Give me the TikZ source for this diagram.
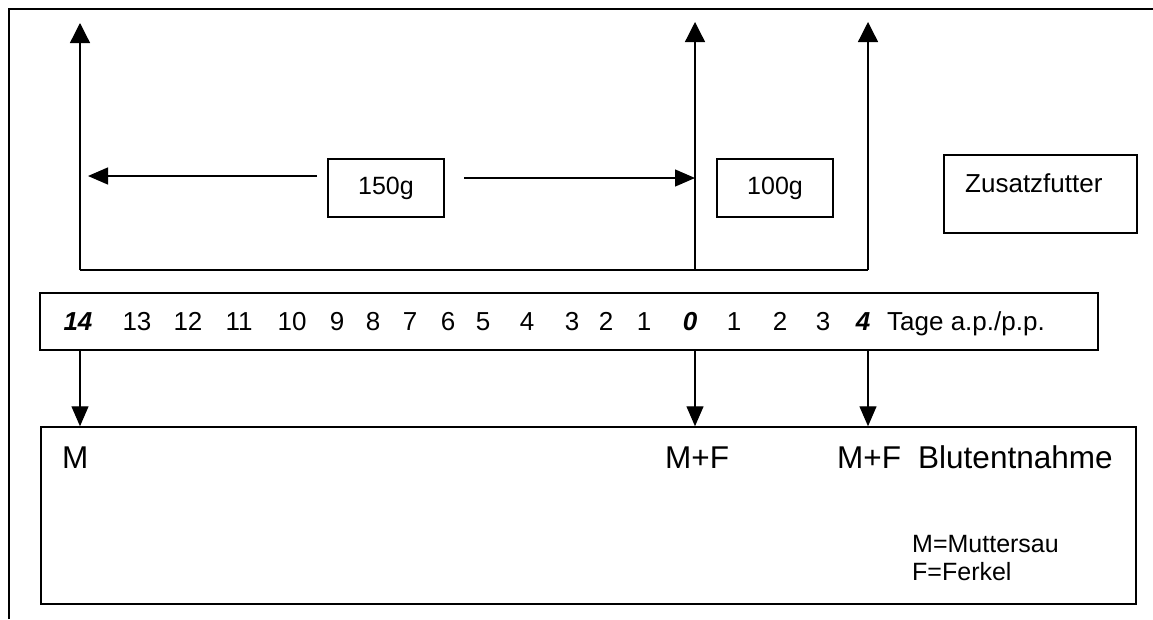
\documentclass[tikz,border=0pt]{standalone}
\usepackage{fontspec}
\setmainfont{Liberation Sans}
\usetikzlibrary{arrows.meta}
\begin{document}
\begin{tikzpicture}[x=1pt,y=-1pt,
  frameline/.style={line width=2.2pt},
  boxline/.style={draw,line width=1.5pt,rectangle,inner sep=0pt},
  conn/.style={line width=1.3pt},
  arr/.style={line width=1.3pt,-{Triangle[width=20pt,length=20pt]}},
  harr/.style={line width=1.3pt,-{Triangle[width=17pt,length=20pt]}},
  darr/.style={line width=1.3pt,-{Triangle[width=17pt,length=20pt]}},
  mid/.style={font=\fontsize{25}{30}\selectfont},
  tl/.style={font=\fontsize{26}{30}\selectfont,anchor=base,inner sep=0pt},
  tlb/.style={font=\fontsize{26}{30}\selectfont\bfseries\itshape,anchor=base,inner sep=0pt},
  big/.style={font=\fontsize{31.5}{36}\selectfont,anchor=base west,inner sep=0pt},
  legend/.style={font=\fontsize{25}{30}\selectfont,anchor=base west,inner sep=0pt}
]
\useasboundingbox (0,0) rectangle (1153,619);
% outer frame
\coordinate (fa) at (9,619);
\coordinate (fb) at (9,9);
\coordinate (fc) at (1153,9);
\draw[frameline] (fa) -- (fb) -- (fc);

% feeding bracket
\coordinate (b14) at (80,270);
\coordinate (b0) at (695,270);
\coordinate (b4) at (868,270);
\coordinate (t14) at (80,23);
\coordinate (t0) at (695,22);
\coordinate (t4) at (868,22);
\draw[conn] (b14) -- (b0) -- (b4);
\draw[arr] (b14) -- (t14);
\draw[arr] (b0) -- (t0);
\draw[arr] (b4) -- (t4);

% boxes
\node[boxline,minimum width=116pt,minimum height=58pt,mid] (g150) at (386,188) {150g};
\node[boxline,minimum width=116pt,minimum height=58pt,mid] (g100) at (775,188) {100g};
\node[boxline,minimum width=193pt,minimum height=78pt] (zf) at (1040.5,194) {};
\node[legend,font=\fontsize{26}{30}\selectfont] (zft) at (965,192) {Zusatzfutter};

% 150g arrows
\coordinate (ls) at (317,176);
\coordinate (le) at (88,176);
\coordinate (rs) at (464,178);
\coordinate (re) at (695,178);
\draw[harr] (ls) -- (le);
\draw[harr] (rs) -- (re);

% timeline
\node[boxline,minimum width=1058pt,minimum height=57pt] (tlbox) at (569,321.5) {};
\node[tlb] (d14) at (78,330) {14};
\node[tl] (d13) at (137,330) {13};
\node[tl] (d12) at (188,330) {12};
\node[tl] (d11) at (239,330) {11};
\node[tl] (d10) at (292,330) {10};
\node[tl] (d9) at (337,330) {9};
\node[tl] (d8) at (373,330) {8};
\node[tl] (d7) at (410,330) {7};
\node[tl] (d6) at (448,330) {6};
\node[tl] (d5) at (483,330) {5};
\node[tl] (d4) at (527,330) {4};
\node[tl] (d3) at (572,330) {3};
\node[tl] (d2) at (606,330) {2};
\node[tl] (d1) at (644,330) {1};
\node[tlb] (d0) at (690,330) {0};
\node[tl] (p1) at (734,330) {1};
\node[tl] (p2) at (780,330) {2};
\node[tl] (p3) at (823,330) {3};
\node[tlb] (p4) at (863,330) {4};
\node[tl,anchor=base west] (tage) at (887,330) {Tage a.p./p.p.};

% bottom box
\node[boxline,minimum width=1095pt,minimum height=177pt] (bb) at (588.5,515.5) {};
\draw[darr] (tlbox.south -| b14) -- (bb.north -| b14);
\draw[darr] (tlbox.south -| b0) -- (bb.north -| b0);
\draw[darr] (tlbox.south -| b4) -- (bb.north -| b4);

\node[big] (m1) at (62,468) {M};
\node[big] (m2) at (665,468) {M+F};
\node[big] (m3) at (837,468) {M+F};
\node[big] (blut) at (918,468) {Blutentnahme};
\node[legend] (lm) at (912,552) {M=Muttersau};
\node[legend] (lf) at (912,580) {F=Ferkel};
\end{tikzpicture}
\end{document}
